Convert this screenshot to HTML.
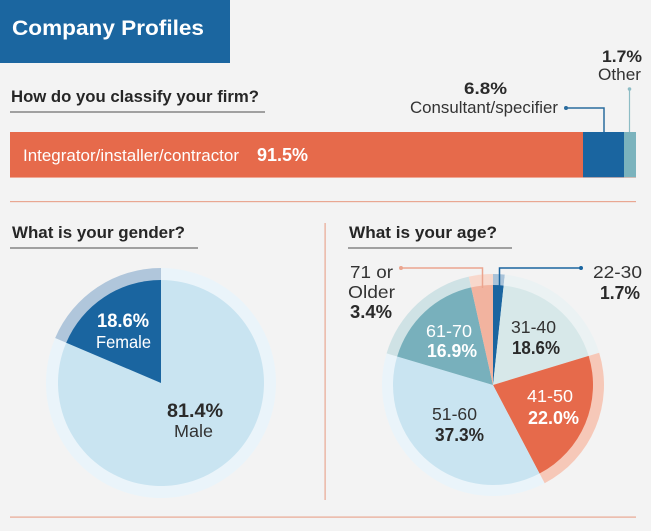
<!DOCTYPE html>
<html><head><meta charset="utf-8">
<style>
html,body{margin:0;padding:0;background:#f3f3f3;}
svg{display:block;}
text{font-family:"Liberation Sans",sans-serif;}
.b{font-weight:bold;}
</style></head>
<body>
<svg width="651" height="531" viewBox="0 0 651 531" xmlns="http://www.w3.org/2000/svg">
<rect x="0" y="0" width="651" height="531" fill="#f3f3f3"/>
<!-- header -->
<rect x="0" y="0" width="230" height="63" fill="#1b66a0"/>
<text x="12" y="35" font-size="21.5" class="b" fill="#ffffff" textLength="192" lengthAdjust="spacingAndGlyphs">Company Profiles</text>

<!-- firm classification -->
<text x="11" y="102" font-size="16.8" class="b" fill="#262626" textLength="248" lengthAdjust="spacingAndGlyphs">How do you classify your firm?</text>
<rect x="10" y="111" width="255" height="2" fill="#a0a0a0"/>

<rect x="10" y="132" width="573" height="46" fill="#e66a4b"/>
<rect x="583" y="132" width="41" height="46" fill="#1a65a0"/>
<rect x="624" y="132" width="12" height="46" fill="#7bb3bd"/>
<rect x="10" y="177" width="626" height="1" fill="#f2c2b4" opacity="0.7"/>
<text x="23" y="161" font-size="17" fill="#ffffff" textLength="216" lengthAdjust="spacingAndGlyphs">Integrator/installer/contractor</text>
<text x="257" y="161" font-size="18" class="b" fill="#ffffff" textLength="51" lengthAdjust="spacingAndGlyphs">91.5%</text>

<text x="464" y="94" font-size="17" class="b" fill="#2a2a2a" textLength="43" lengthAdjust="spacingAndGlyphs">6.8%</text>
<text x="410" y="113" font-size="17" fill="#333333" textLength="148" lengthAdjust="spacingAndGlyphs">Consultant/specifier</text>
<polyline points="566,108 604,108 604,132" fill="none" stroke="#2a6c9e" stroke-width="1.5"/>
<circle cx="566" cy="108" r="2" fill="#2a6c9e"/>

<text x="602" y="62" font-size="17" class="b" fill="#2a2a2a" textLength="40" lengthAdjust="spacingAndGlyphs">1.7%</text>
<text x="598" y="80" font-size="17" fill="#333333" textLength="43" lengthAdjust="spacingAndGlyphs">Other</text>
<line x1="629.5" y1="89" x2="629.5" y2="132" stroke="#8dbcc5" stroke-width="1.2"/>
<circle cx="629.5" cy="89" r="1.8" fill="#8dbcc5"/>

<!-- separators -->
<rect x="10" y="201" width="626" height="1.2" fill="#e9a792"/>
<rect x="10" y="516.5" width="626" height="1.2" fill="#e9a792"/>
<rect x="324.5" y="223" width="1.2" height="277" fill="#e9a792"/>

<!-- gender -->
<text x="12" y="238" font-size="16.8" class="b" fill="#262626" textLength="173" lengthAdjust="spacingAndGlyphs">What is your gender?</text>
<rect x="10" y="247" width="188" height="2" fill="#a0a0a0"/>

<path d="M161,383 L161,268 A115,115 0 1 1 55.17,337.99 Z" fill="#eaf4fa"/>
<path d="M161,383 L55.17,337.99 A115,115 0 0 1 161,268 Z" fill="#b0c6db"/>
<path d="M161,383 L161,280 A103,103 0 1 1 66.21,342.69 Z" fill="#c9e4f1"/>
<path d="M161,383 L66.21,342.69 A103,103 0 0 1 161,280 Z" fill="#1a65a0"/>

<text x="123" y="327" font-size="19" class="b" fill="#ffffff" text-anchor="middle" textLength="52" lengthAdjust="spacingAndGlyphs">18.6%</text>
<text x="123.5" y="348" font-size="17.5" fill="#ffffff" text-anchor="middle" textLength="55" lengthAdjust="spacingAndGlyphs">Female</text>
<text x="195" y="417" font-size="19" class="b" fill="#2a2a2a" text-anchor="middle" textLength="56" lengthAdjust="spacingAndGlyphs">81.4%</text>
<text x="193.5" y="437" font-size="17.5" fill="#333333" text-anchor="middle" textLength="39" lengthAdjust="spacingAndGlyphs">Male</text>

<!-- age -->
<text x="349" y="238" font-size="16.8" class="b" fill="#262626" textLength="148" lengthAdjust="spacingAndGlyphs">What is your age?</text>
<rect x="348" y="247" width="164" height="2" fill="#a0a0a0"/>

<!-- outer rings -->
<path d="M493,385 L493,274 A111,111 0 0 1 504.83,274.63 Z" fill="#a9c3d9"/>
<path d="M493,385 L504.83,274.63 A111,111 0 0 1 599.19,352.70 Z" fill="#ebf2f3"/>
<path d="M493,385 L599.19,352.70 A111,111 0 0 1 544.63,483.27 Z" fill="#f6c8b8"/>
<path d="M493,385 L544.63,483.27 A111,111 0 0 1 386.61,353.36 Z" fill="#eaf4fa"/>
<path d="M493,385 L386.61,353.36 A111,111 0 0 1 468.79,276.68 Z" fill="#cfe2e5"/>
<path d="M493,385 L468.79,276.68 A111,111 0 0 1 493,274 Z" fill="#f8d8cc"/>
<!-- inner slices -->
<path d="M493,385 L493,285 A100,100 0 0 1 503.66,285.57 Z" fill="#1a65a0"/>
<path d="M493,385 L503.66,285.57 A100,100 0 0 1 588.67,355.90 Z" fill="#d7e8e9"/>
<path d="M493,385 L588.67,355.90 A100,100 0 0 1 539.51,473.53 Z" fill="#e66a4b"/>
<path d="M493,385 L539.51,473.53 A100,100 0 0 1 397.15,356.50 Z" fill="#c9e4f1"/>
<path d="M493,385 L397.15,356.50 A100,100 0 0 1 471.19,287.41 Z" fill="#78b0bc"/>
<path d="M493,385 L471.19,287.41 A100,100 0 0 1 493,285 Z" fill="#f2b39f"/>

<!-- connectors -->
<polyline points="581,268 499.5,268 499.5,288" fill="none" stroke="#1a65a0" stroke-width="1.5"/>
<circle cx="581" cy="268" r="2" fill="#1a65a0"/>
<polyline points="401,268 482.5,268 482.5,288" fill="none" stroke="#eba58f" stroke-width="1.5"/>
<circle cx="401" cy="268" r="2" fill="#eba58f"/>

<text x="593" y="278" font-size="17.5" fill="#333333" textLength="49" lengthAdjust="spacingAndGlyphs">22-30</text>
<text x="600" y="299" font-size="18" class="b" fill="#2a2a2a" textLength="40" lengthAdjust="spacingAndGlyphs">1.7%</text>
<text x="350" y="278" font-size="17.5" fill="#333333" textLength="43" lengthAdjust="spacingAndGlyphs">71 or</text>
<text x="348" y="298" font-size="17.5" fill="#333333" textLength="47" lengthAdjust="spacingAndGlyphs">Older</text>
<text x="350" y="318" font-size="18" class="b" fill="#2a2a2a" textLength="42" lengthAdjust="spacingAndGlyphs">3.4%</text>

<text x="511" y="333" font-size="17.5" fill="#333333" textLength="45" lengthAdjust="spacingAndGlyphs">31-40</text>
<text x="512" y="354" font-size="18" class="b" fill="#2a2a2a" textLength="48" lengthAdjust="spacingAndGlyphs">18.6%</text>
<text x="426" y="337" font-size="17.5" fill="#ffffff" textLength="46" lengthAdjust="spacingAndGlyphs">61-70</text>
<text x="427" y="357" font-size="18" class="b" fill="#ffffff" textLength="50" lengthAdjust="spacingAndGlyphs">16.9%</text>
<text x="527" y="402" font-size="17.5" fill="#ffffff" textLength="46" lengthAdjust="spacingAndGlyphs">41-50</text>
<text x="528" y="424" font-size="18" class="b" fill="#ffffff" textLength="51" lengthAdjust="spacingAndGlyphs">22.0%</text>
<text x="432" y="420" font-size="17.5" fill="#333333" textLength="45" lengthAdjust="spacingAndGlyphs">51-60</text>
<text x="435" y="441" font-size="18" class="b" fill="#2a2a2a" textLength="49" lengthAdjust="spacingAndGlyphs">37.3%</text>
</svg>
</body></html>
